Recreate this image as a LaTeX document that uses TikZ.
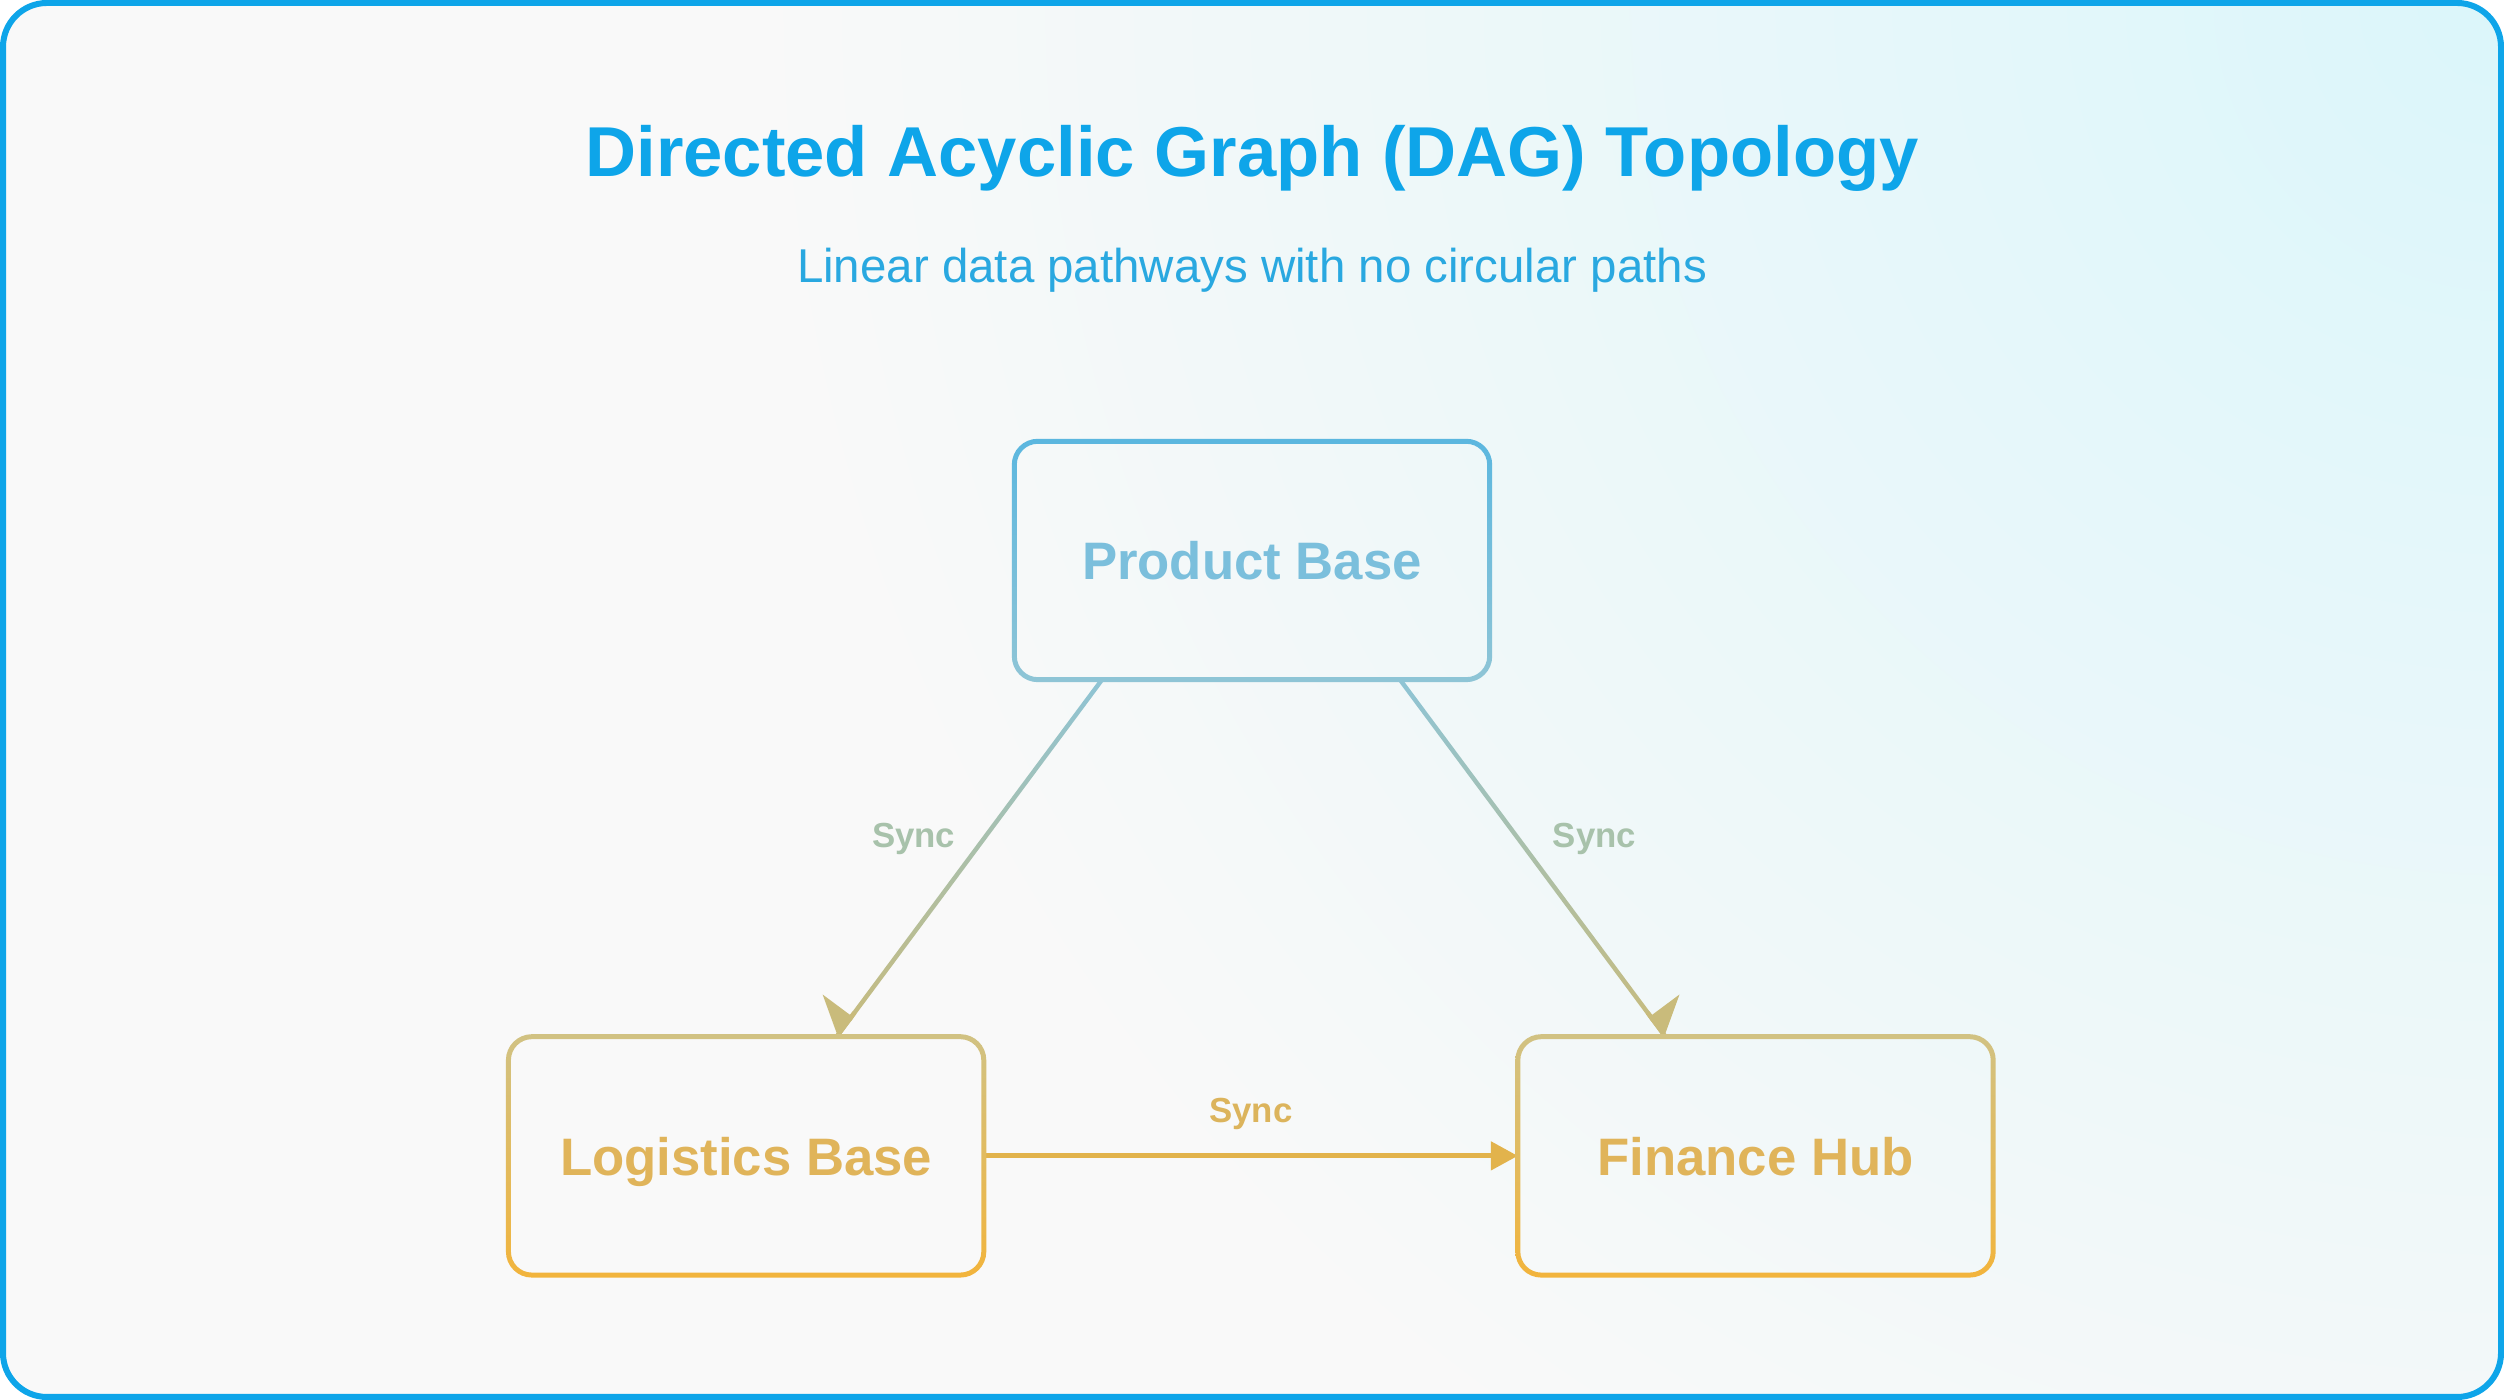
\documentclass[tikz,border=0pt]{standalone}
\usepackage{fontspec}
\setmainfont{Liberation Sans}
\usetikzlibrary{arrows.meta,calc,positioning}

\definecolor{frameblue}{HTML}{0EA5E9}
\definecolor{subblue}{HTML}{29A8E0}
\definecolor{pbtext}{HTML}{7BBFDC}
\definecolor{pbtop}{HTML}{5BB7DF}
\definecolor{pbbot}{HTML}{8FC5D6}
\definecolor{goldtop}{HTML}{D1C283}
\definecolor{goldbot}{HTML}{F2B43C}
\definecolor{goldtext}{HTML}{E0B45A}
\definecolor{linktop}{HTML}{8EC4D5}
\definecolor{linkbot}{HTML}{C9BB7B}
\definecolor{syncgreen}{HTML}{A8C2AB}
\definecolor{hgold}{HTML}{E2B34C}
\definecolor{syncgold}{HTML}{DCB45C}
\definecolor{bgbase}{HTML}{F9F9F9}
\definecolor{bgglow}{HTML}{DBF6FA}

% ring with a vertical gradient round a node
\newcommand\ringbox[3]{%
  \shade[even odd rule,top color=#2,bottom color=#3]
    ([shift={(-2.5,2.5)}]#1.north west) [rounded corners=2.6mm] rectangle ([shift={(2.5,-2.5)}]#1.south east)
    ([shift={(2.5,-2.5)}]#1.north west) [rounded corners=2.1mm] rectangle ([shift={(-2.5,2.5)}]#1.south east);}
% thin line with a vertical gradient
\newcommand\gradlink[4]{%
  \shade[top color=#3,bottom color=#4]
    ($(#1)!.22mm!90:(#2)$) -- ($(#2)!.22mm!-90:(#1)$) -- ($(#2)!.22mm!90:(#1)$) -- ($(#1)!.22mm!-90:(#2)$) -- cycle;}

\begin{document}
\begin{tikzpicture}[x=0.1mm,y=0.1mm,
  box/.style={minimum width=47.4mm,minimum height=23.7mm,inner sep=0pt,text height=1.15em,text depth=.06em,font=\fontsize{15}{18}\selectfont\bfseries},
  sync/.style={inner sep=0pt,font=\fontsize{9.9}{12}\selectfont\bfseries},
  hlink/.style={draw=hgold,line width=.5mm,-{Triangle[length=2.7mm,width=2.8mm]}},
  tiplink/.style={draw=linkbot,line width=.45mm}]

  % background and frame
  \fill[white] (0,0) rectangle (2504,1400);
  \begin{scope}
    \clip[rounded corners=4.4mm] (3,3) rectangle (2501,1397);
    \fill[bgbase] (0,0) rectangle (2504,1400);
    \shade[inner color=bgglow,outer color=bgbase] (2504,1400) circle (1750);
  \end{scope}
  \draw[frameblue,line width=.6mm,rounded corners=4.4mm] (3,3) rectangle (2501,1397);

  \node[anchor=base,text=frameblue,font=\fontsize{20.1}{24}\selectfont\bfseries] (title) at (1252,1223) {Directed Acyclic Graph (DAG) Topology};
  \node[anchor=base,text=subblue,font=\fontsize{13.5}{16}\selectfont] (subtitle) at (1252,1117) {Linear data pathways with no circular paths};

  \node[box,text=pbtext] (pb) at (1252,839.5) {Product Base};
  \node[box,text=goldtext,below left=35.7mm and 3.05mm of pb] (lb) {Logistics Base};
  \node[box,text=goldtext,right=53.4mm of lb] (fh) {Finance Hub};

  \coordinate (l1) at ([xshift=-15mm]pb.south);
  \coordinate (l2) at ([xshift=9.05mm]lb.north);
  \coordinate (r1) at ([xshift=14.8mm]pb.south);
  \coordinate (r2) at ([xshift=-9mm]fh.north);

  \gradlink{l1}{l2}{linktop}{linkbot}
  \gradlink{r1}{r2}{linktop}{linkbot}
  \draw[tiplink,-{Triangle[harpoon,swap,length=2.4mm,width=7.2mm]}] ($(l2)!3mm!(l1)$) -- (l2);
  \draw[tiplink,-{Triangle[harpoon,length=2.4mm,width=7.2mm]}] ($(r2)!3mm!(r1)$) -- (r2);
  \path (l1) -- (l2) node[sync,text=syncgreen,pos=.445,left=2.8mm] {Sync};
  \path (r1) -- (r2) node[sync,text=syncgreen,pos=.445,right=3.4mm] {Sync};

  \draw[hlink] (lb) -- (fh) node[sync,text=syncgold,midway,above=2.4mm] {Sync};

  \ringbox{pb}{pbtop}{pbbot}
  \ringbox{lb}{goldtop}{goldbot}
  \ringbox{fh}{goldtop}{goldbot}
\end{tikzpicture}
\end{document}
